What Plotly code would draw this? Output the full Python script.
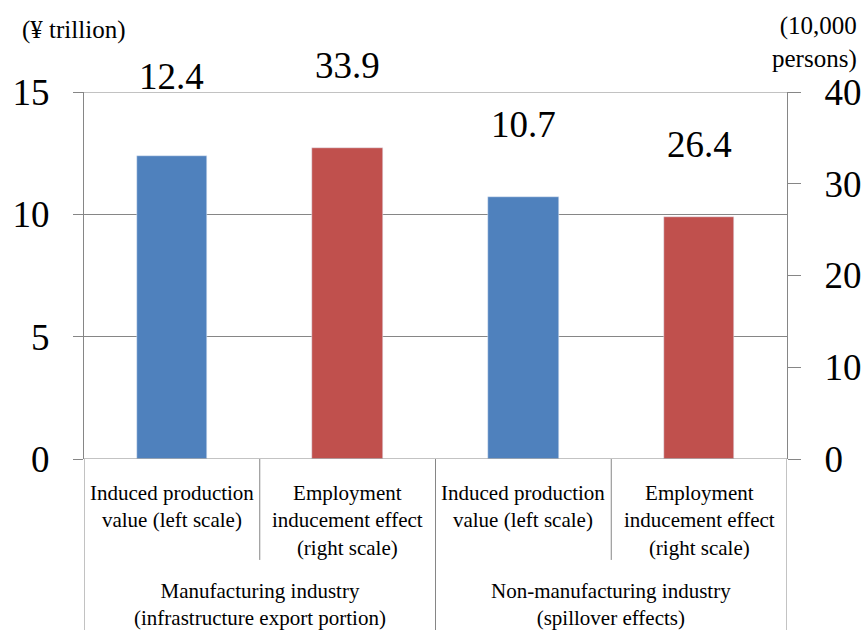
import plotly.graph_objects as go

# Sub-category labels (two per industry group)
sub_labels = [
    "Induced production<br>value (left scale)",
    "Employment<br>inducement effect<br>(right scale)",
    "Induced production<br>value (left scale)",
    "Employment<br>inducement effect<br>(right scale)",
]
group_labels = [
    "Manufacturing industry<br>(infrastructure export portion)",
    "Non-manufacturing industry<br>(spillover effects)",
]

# Values: production (¥ trillion, left scale) and employment (10,000 persons, right scale)
production_pos = [0.5, 2.5]
production_vals = [12.4, 10.7]
employment_pos = [1.5, 3.5]
employment_vals = [33.9, 26.4]
label_shift = [79, 82, 73, 72]

left_ticks = [0, 5, 10, 15]
right_ticks = [0, 10, 20, 30, 40]

FONT = "Liberation Serif"
GRID = "#868686"

fig = go.Figure()
fig.add_trace(go.Bar(x=production_pos, y=production_vals, marker_color="#4F81BD",
                     width=0.4, yaxis="y", showlegend=False))
fig.add_trace(go.Bar(x=employment_pos, y=employment_vals, marker_color="#C0504D",
                     width=0.4, yaxis="y2", showlegend=False))

annotations = []
# Value labels above bars
for i, (x, v) in enumerate(zip(production_pos, production_vals)):
    annotations.append(dict(x=x, y=v, xref="x", yref="y", text=f"{v}", showarrow=False,
                            yshift=label_shift[2 * i], font=dict(family=FONT, size=37, color="black")))
for i, (x, v) in enumerate(zip(employment_pos, employment_vals)):
    annotations.append(dict(x=x, y=v, xref="x", yref="y2", text=f"{v}", showarrow=False,
                            yshift=label_shift[2 * i + 1], font=dict(family=FONT, size=37, color="black")))

# Category labels below axis
for i, t in enumerate(sub_labels):
    annotations.append(dict(x=i + 0.5, y=0, xref="x", yref="paper", text=t, showarrow=False,
                            yanchor="top", yshift=-20, align="center",
                            font=dict(family=FONT, size=21, color="black")))
for i, t in enumerate(group_labels):
    annotations.append(dict(x=2 * i + 1, y=0, xref="x", yref="paper", text=t, showarrow=False,
                            yanchor="top", yshift=-118, align="center",
                            font=dict(family=FONT, size=21, color="black")))

# Axis unit titles
annotations.append(dict(x=-0.091, y=1.169, xref="paper", yref="paper", text="(¥ trillion)",
                        showarrow=False, xanchor="left", yanchor="middle",
                        font=dict(family=FONT, size=25, color="black")))
annotations.append(dict(x=1.1024, y=1.136, xref="paper", yref="paper",
                        text="(10,000<br>persons)",
                        showarrow=False, xanchor="right", yanchor="middle", align="right",
                        font=dict(family=FONT, size=25, color="black")))

# Category separators
shapes = []
for x in [1, 3]:
    shapes.append(dict(type="line", xref="x", yref="paper", x0=x, x1=x, y0=0, y1=-0.275,
                       line=dict(color=GRID, width=1)))
for x in [0, 2, 4]:
    shapes.append(dict(type="line", xref="x", yref="paper", x0=x, x1=x, y0=0, y1=-0.47,
                       line=dict(color=GRID, width=1)))
# Baseline and top gridline
for yv in [0, 15]:
    shapes.append(dict(type="line", xref="paper", yref="y", x0=0, x1=1, y0=yv, y1=yv,
                       line=dict(color=GRID, width=1)))

fig.update_layout(
    width=864, height=630,
    margin=dict(l=84, r=77, t=92, b=171),
    plot_bgcolor="white", paper_bgcolor="white",
    bargap=0,
    font=dict(family=FONT, color="black"),
    xaxis=dict(range=[0, 4], showticklabels=False, showgrid=False, zeroline=False,
               showline=False, ticks="", automargin=False),
    yaxis=dict(range=[0, 15], tickvals=left_ticks, showgrid=True, gridcolor=GRID, gridwidth=1,
               zeroline=False, showline=True, linecolor=GRID, linewidth=1,
               ticks="outside", ticklen=10, tickcolor=GRID, ticklabelstandoff=16,
               automargin=False,
               tickfont=dict(family=FONT, size=37, color="black")),
    yaxis2=dict(range=[0, 40], tickvals=right_ticks, overlaying="y", side="right",
                showgrid=False, zeroline=False, showline=True, linecolor=GRID, linewidth=1,
                ticks="outside", ticklen=13, tickcolor=GRID, ticklabelstandoff=16,
                automargin=False,
                tickfont=dict(family=FONT, size=37, color="black")),
    annotations=annotations,
    shapes=shapes,
)

fig.write_html("out.html")
